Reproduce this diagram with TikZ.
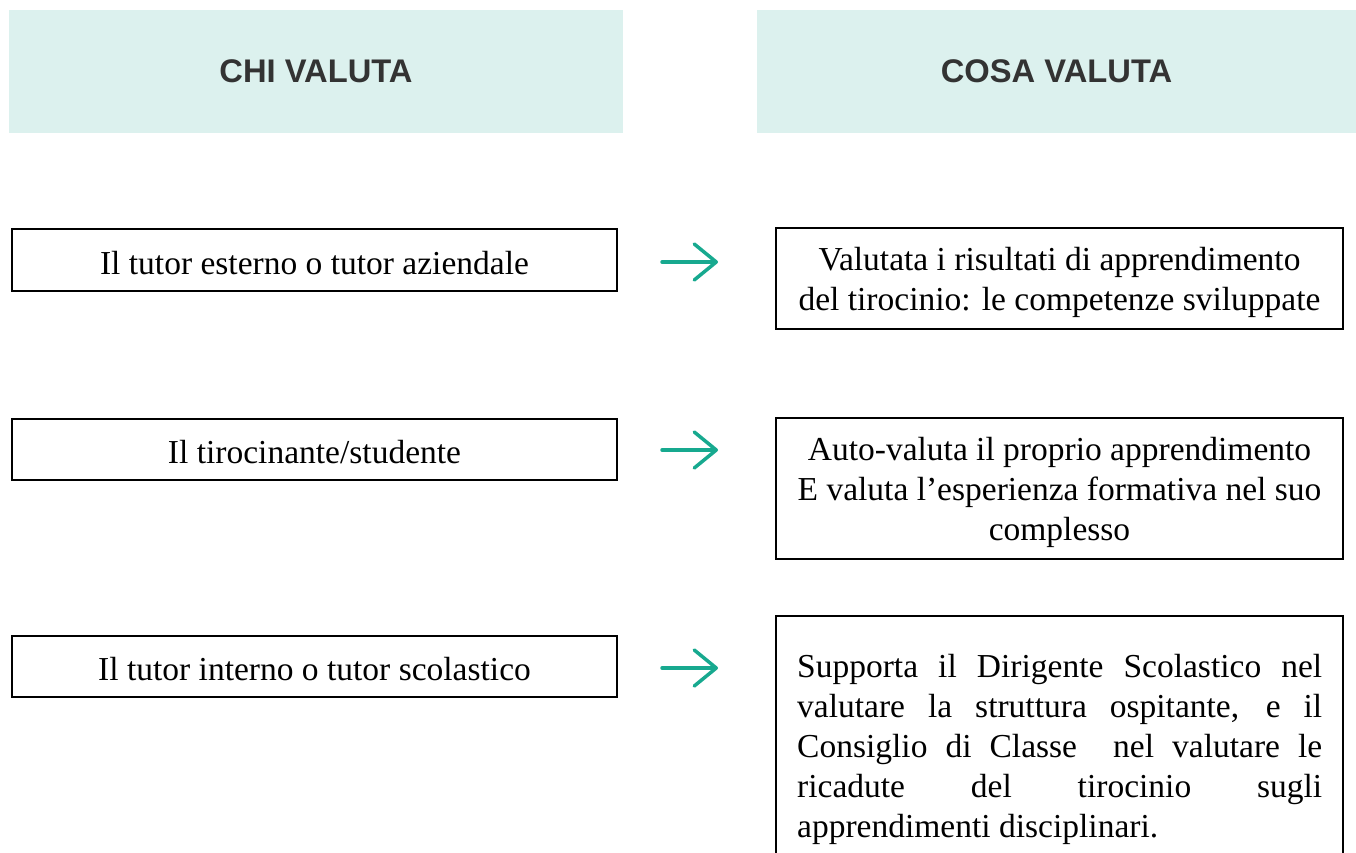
\documentclass[tikz,border=0pt]{standalone}
\usepackage{fontspec}
\setmainfont{Liberation Serif}
\newfontfamily\hdrfont{Liberation Sans}
\usetikzlibrary{arrows.meta}
\definecolor{hdrfill}{HTML}{DCF1EE}
\definecolor{hdrtext}{HTML}{333333}
\definecolor{arrowteal}{HTML}{17A98F}
\tikzset{
  hdr/.style={fill=hdrfill, draw=none, font=\hdrfont\bfseries\fontsize{32.7}{38}\selectfont, text=hdrtext, inner sep=0pt},
  box/.style={draw=black, line width=2pt, inner sep=0pt},
  txt/.style={inner sep=0pt, font=\fontsize{33.5}{40}\selectfont, align=center},
  tealarrow/.style={draw=arrowteal, line width=3.5pt, line cap=round, -{Straight Barb[length=22pt,width=36pt,line cap=round,line join=round]}}
}
\begin{document}
\begin{tikzpicture}[x=1pt,y=-1pt]
\useasboundingbox (0,0) rectangle (1356,853);
% headers
\node[hdr, minimum width=614pt, minimum height=123pt] (h1) at (316,71.5) {CHI VALUTA};
\node[hdr, minimum width=599pt, minimum height=123pt] (h2) at (1056.5,71.5) {COSA VALUTA};
% left boxes
\node[box, minimum width=605pt, minimum height=62pt] (w1) at (314.5,260) {};
\node[txt] (w1t) at ([yshift=-3pt]w1.center) {Il tutor esterno o tutor aziendale};
\node[box, minimum width=605pt, minimum height=61pt] (w2) at (314.5,449.5) {};
\node[txt] (w2t) at ([yshift=-3pt]w2.center) {Il tirocinante/studente};
\node[box, minimum width=605pt, minimum height=61pt] (w3) at (314.5,666.5) {};
\node[txt] (w3t) at ([yshift=-3pt]w3.center) {Il tutor interno o tutor scolastico};
% right boxes
\node[box, minimum width=567pt, minimum height=101pt] (c1) at (1059.5,278.5) {};
\node[txt] (c1t) at ([yshift=-4pt]c1.center) {Valutata i risultati di apprendimento\\del tirocinio: le competenze sviluppate};
\node[box, minimum width=567pt, minimum height=141pt] (c2) at (1059.5,488.5) {};
\node[txt] (c2t) at ([yshift=-4pt]c2.center) {Auto-valuta il proprio apprendimento\\E valuta l’esperienza formativa nel suo\\complesso};
\node[box, minimum width=567pt, minimum height=270pt, anchor=north] (c3) at (1059.5,615) {};
\node[txt, align=left, anchor=north west] (c3t) at (797,654)
{\makebox[525pt][s]{Supporta il Dirigente Scolastico nel}\\
 \makebox[525pt][s]{valutare la struttura ospitante, e il}\\
 \makebox[525pt][s]{Consiglio di Classe\ \ nel valutare le}\\
 \makebox[525pt][s]{ricadute del tirocinio sugli}\\
 apprendimenti disciplinari.};
% arrows
\coordinate (a1s) at (662,262); \coordinate (a1e) at (718,262);
\coordinate (a2s) at (662,450); \coordinate (a2e) at (718,450);
\coordinate (a3s) at (662,668); \coordinate (a3e) at (718,668);
\draw[tealarrow] (a1s) -- (a1e);
\draw[tealarrow] (a2s) -- (a2e);
\draw[tealarrow] (a3s) -- (a3e);
\end{tikzpicture}
\end{document}
